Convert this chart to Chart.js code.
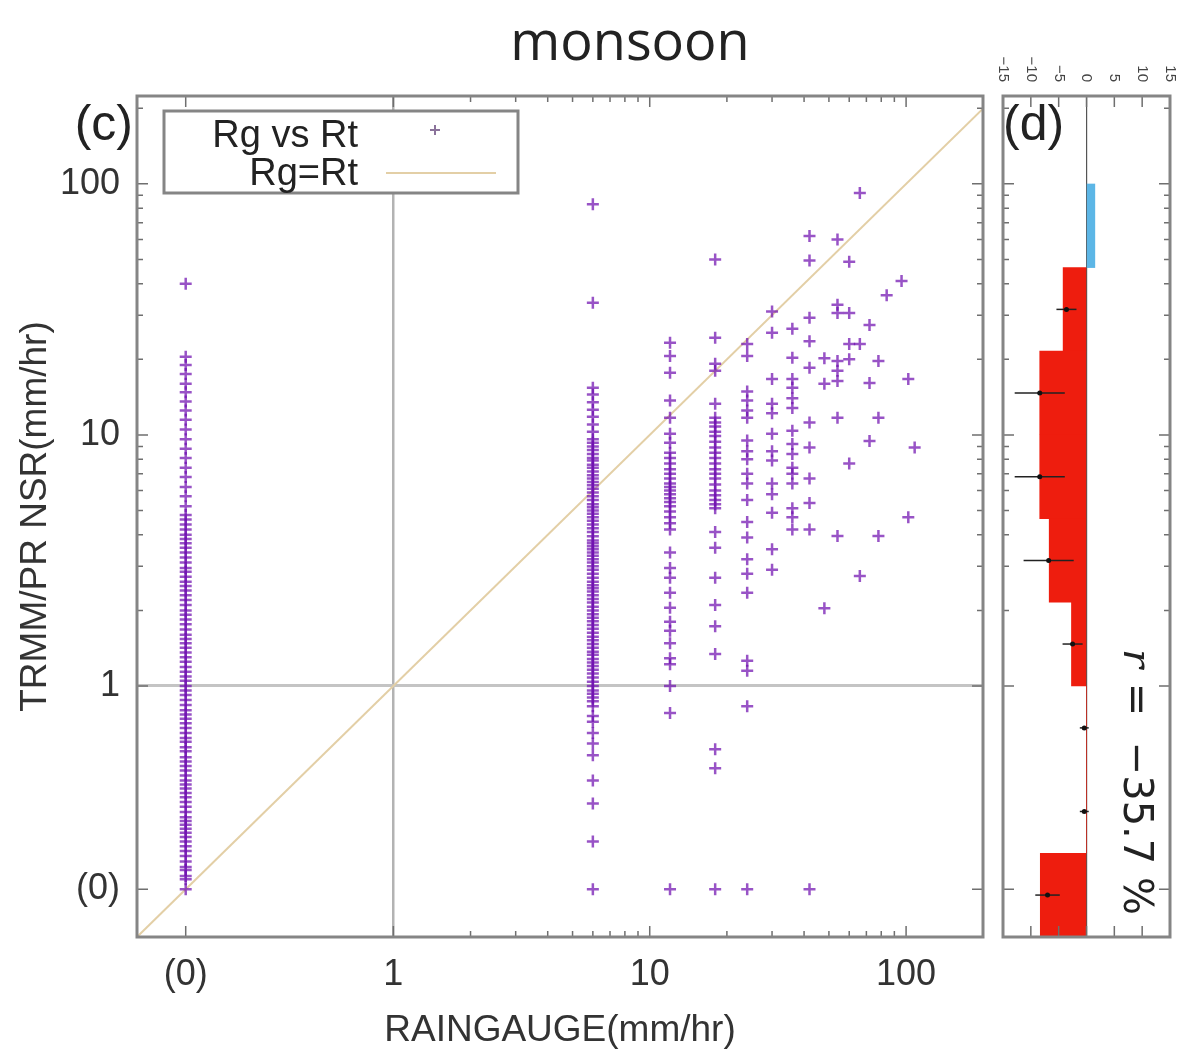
<!DOCTYPE html>
<html>
<head>
<meta charset="utf-8">
<script src="https://cdn.jsdelivr.net/npm/chart.js@4"></script>
<style>
  body { margin: 0; background: #fff; }
  #wrap { position: relative; width: 1180px; height: 1059px; overflow: hidden; background: #fff; }
  #title {
    position: absolute; top: 2px; left: 630px; transform: translateX(-50%);
    font: 54px 'Open Sans', 'Noto Sans', sans-serif; color: #222; white-space: nowrap;
  }
  #mainChart { position: absolute; left: 0; top: 0; }
  #sideChart { position: absolute; left: 995px; top: 0; }
</style>
</head>
<body>
<div id="wrap">
  <div id="title">monsoon</div>
  <canvas id="mainChart" width="995" height="1059"></canvas>
  <canvas id="sideChart" width="185" height="1059"></canvas>
</div>
<script>
// where "(0)" sits on the log axes (in decades)
const ZERO_POS = -0.81;

// axis ticks (mm/hr) and their labels
const axisTickValues = [0, 1, 10, 100];
const axisTickLabels = ['(0)', '1', '10', '100'];

// rain gauge columns (mm/hr) and the TRMM/PR values read at each
const gaugeColumns = [0, 6, 12, 18, 24, 30, 36, 42, 48, 54, 60, 66, 72, 78, 84, 96, 102, 108];

const trmmAt0 = [40, 20.5, 19, 17.5, 16, 14.8, 13.6, 12.5, 11.5, 10.5, 9.6, 8.8, 8.1, 7.4, 6.8, 6.2, 5.7,
  5.2, 4.8, 4.6, 4.4, 4.2, 4.0, 3.85, 3.7, 3.55, 3.4, 3.25, 3.1, 2.95, 2.85, 2.72, 2.6, 2.5, 2.4, 2.3,
  2.2, 2.1, 2.0, 1.92, 1.84, 1.76, 1.68, 1.6, 1.54, 1.48, 1.42, 1.36, 1.3, 1.25, 1.19, 1.14, 1.09,
  1.05, 1.0, 0.96, 0.92, 0.88, 0.84, 0.8, 0.77, 0.74, 0.71, 0.68, 0.65, 0.62, 0.6, 0.57, 0.55, 0.52,
  0.5, 0.48, 0.46, 0.44, 0.42, 0.405, 0.39, 0.375, 0.36, 0.345, 0.33, 0.315, 0.3, 0.29, 0.28, 0.27,
  0.26, 0.25, 0.24, 0.23, 0.22, 0.21, 0.2, 0.19, 0.185, 0.175, 0.17, 0];
const trmmAt6 = [83, 33.6, 15.4, 14.5, 13.5, 12.6, 11.8, 11, 10.3, 9.6, 9.3, 9.0, 8.7, 8.4, 8.1, 7.9,
  7.6, 7.4, 7.15, 6.9, 6.7, 6.5, 6.3, 6.1, 5.9, 5.7, 5.5, 5.3, 5.15, 5.0, 4.85, 4.7, 4.55, 4.4, 4.25,
  4.1, 3.95, 3.8, 3.7, 3.6, 3.5, 3.4, 3.3, 3.2, 3.1, 3.0, 2.9, 2.8, 2.7, 2.6, 2.52, 2.45, 2.38, 2.3,
  2.22, 2.15, 2.07, 2.0, 1.93, 1.87, 1.81, 1.75, 1.69, 1.63, 1.57, 1.52, 1.47, 1.42, 1.37, 1.33,
  1.28, 1.24, 1.2, 1.16, 1.12, 1.08, 1.04, 1.0, 0.96, 0.93, 0.9, 0.87, 0.83, 0.76, 0.72, 0.65, 0.59,
  0.53, 0.42, 0.34, 0.24, 0];
const trmmAt12 = [23.3, 20.6, 17.7, 13.7, 11.7, 10.1, 9.3, 8.5, 8.1, 7.7, 7.3, 7.0, 6.7, 6.4, 6.2,
  6.0, 5.8, 5.6, 5.4, 5.2, 4.95, 4.7, 4.45, 4.2, 3.4, 2.95, 2.7, 2.35, 2.05, 1.8, 1.66, 1.48, 1.29,
  1.22, 1.0, 0.78, 0];
const trmmAt18 = [50, 24.4, 19.2, 18, 13.3, 11.7, 11.2, 10.8, 10.3, 9.9, 9.4, 8.9, 8.5, 8.1, 7.7, 7.3,
  7.0, 6.7, 6.35, 6.0, 5.75, 5.5, 5.3, 5.1, 4.1, 3.55, 2.7, 2.1, 1.73, 1.34, 0.56, 0.47, 0];
const trmmAt24 = [23, 20.6, 14.9, 13.7, 12.5, 11.7, 9.5, 8.6, 8.0, 7.0, 6.4, 5.5, 4.5, 3.9, 3.2, 2.8,
  2.35, 1.26, 1.15, 0.83, 0];
const trmmAt30 = [31, 25.5, 16.7, 13.3, 12.2, 10.1, 8.6, 7.9, 6.4, 5.8, 4.9, 3.5, 2.9];
const trmmAt36 = [26.5, 20.3, 16.7, 15.4, 14, 12.8, 10.4, 9.2, 8.4, 7.4, 7.0, 6.4, 5.1, 4.7, 4.2];
const trmmAt42 = [62, 49.5, 29.3, 23.6, 18.5, 11.2, 8.9, 6.7, 5.35, 4.2, 0];
const trmmAt48 = [20.2, 16, 2.04];
const trmmAt54 = [60, 33, 30.6, 19.7, 18, 16.4, 11.7, 3.96];
const trmmAt60 = [49, 30.6, 23, 20, 7.7];
const trmmAt66 = [92, 23, 2.74];
const trmmAt72 = [27.4, 16.1, 9.45];
const trmmAt78 = [19.7, 11.7, 3.96];
const trmmAt84 = [36];
const trmmAt96 = [41];
const trmmAt102 = [16.7, 4.7];
const trmmAt108 = [8.9];
const trmmByColumn = [trmmAt0, trmmAt6, trmmAt12, trmmAt18, trmmAt24, trmmAt30, trmmAt36, trmmAt42,
  trmmAt48, trmmAt54, trmmAt60, trmmAt66, trmmAt72, trmmAt78, trmmAt84, trmmAt96, trmmAt102, trmmAt108];

// Rg=Rt line end points (mm/hr)
const oneToOne = [0.1, 224];

// panel (d): bias contribution (%) per TRMM bin (bin centres in decades)
const binCentersLog = [1.833, 1.5, 1.167, 0.833, 0.5, 0.167, -0.167, -0.5, -0.833];
const biasPct = [1.5, -4.2, -8.4, -8.4, -6.7, -2.7, 0, 0, -8.3];
const markerBins = [1.5, 1.167, 0.833, 0.5, 0.167, -0.167, -0.5, -0.833];
const markerMean = [-3.6, -8.4, -8.4, -6.8, -2.5, -0.4, -0.4, -7.0];
const markerErr = [1.8, 4.5, 4.5, 4.5, 1.8, 0.8, 0.8, 2.2];
const biasTicks = [-15, -10, -5, 0, 5, 10, 15];
const totalBias = '\u221235.7 %';

const toLog = v => v === 0 ? ZERO_POS : Math.log10(v);

const scatterPoints = [];
gaugeColumns.forEach((g, i) => {
  trmmByColumn[i].forEach(t => scatterPoints.push({ x: toLog(g), y: toLog(t) }));
});

const tickFont = { family: "'Liberation Sans Narrow', 'Liberation Sans', Arial, sans-serif", size: 36 };
const titleFont = { family: "'Liberation Sans', Arial, sans-serif", size: 37 };
const FRAME = '#858585';

function minorLogTicks(hi) {
  const out = [];
  for (let d = 0; d <= 2; d++) {
    for (let k = 2; k <= 9; k++) {
      const v = d + Math.log10(k);
      if (v < hi) out.push(v);
    }
  }
  return out;
}

// box with inward tick marks, gnuplot style
const frame = {
  id: 'frame',
  afterDatasetsDraw(chart, args, opts) {
    const { ctx, chartArea: a, scales: { x, y } } = chart;
    ctx.save();
    ctx.strokeStyle = '#6f6f6f';
    ctx.lineWidth = 1.5;
    const mark = (vals, len, horiz) => {
      vals.forEach(v => {
        ctx.beginPath();
        if (horiz) {
          const px = x.getPixelForValue(v);
          ctx.moveTo(px, a.bottom); ctx.lineTo(px, a.bottom - len);
          ctx.moveTo(px, a.top); ctx.lineTo(px, a.top + len);
        } else {
          const py = y.getPixelForValue(v);
          ctx.moveTo(a.left, py); ctx.lineTo(a.left + len, py);
          ctx.moveTo(a.right, py); ctx.lineTo(a.right - len, py);
        }
        ctx.stroke();
      });
    };
    mark(opts.xMajor, 11, true);
    mark(opts.xMinor, 6, true);
    mark(opts.yMajor, 11, false);
    mark(opts.yMinor, 6, false);
    ctx.strokeStyle = FRAME;
    ctx.lineWidth = 3;
    ctx.strokeRect(a.left, a.top, a.right - a.left, a.bottom - a.top);
    ctx.fillStyle = '#222';
    ctx.font = "50px 'Liberation Sans', Arial, sans-serif";
    ctx.textBaseline = 'top';
    ctx.textAlign = opts.labelAlign;
    ctx.fillText(opts.label, a.left + opts.labelDx, a.top + 5);
    // rotated top-axis labels (panel d only)
    if (opts.topLabels) {
      ctx.fillStyle = '#444';
      ctx.font = "15px 'Liberation Sans', Arial, sans-serif";
      ctx.textAlign = 'right';
      ctx.textBaseline = 'middle';
      opts.topLabels.forEach(v => {
        ctx.save();
        ctx.translate(x.getPixelForValue(v), a.top - 14);
        ctx.rotate(Math.PI / 2);
        ctx.fillText(v < 0 ? '\u2212' + Math.abs(v) : String(v), 0, 0);
        ctx.restore();
      });
    }
    ctx.restore();
  }
};

// key box inside panel (c)
const keyBox = {
  id: 'keyBox',
  afterDatasetsDraw(chart) {
    const { ctx, chartArea: a } = chart;
    const l = a.left + 27, t = a.top + 15, w = 354, h = 82;
    ctx.save();
    ctx.fillStyle = '#fff';
    ctx.fillRect(l, t, w, h);
    ctx.strokeStyle = FRAME;
    ctx.lineWidth = 3;
    ctx.strokeRect(l, t, w, h);
    ctx.fillStyle = '#222';
    ctx.font = "38px 'Liberation Sans', Arial, sans-serif";
    ctx.textAlign = 'right';
    ctx.textBaseline = 'alphabetic';
    ctx.fillText('Rg vs Rt', l + 194, t + 36);
    ctx.fillText('Rg=Rt', l + 194, t + 74);
    ctx.strokeStyle = 'rgba(110, 80, 130, 0.8)';
    ctx.lineWidth = 2;
    ctx.beginPath();
    ctx.moveTo(l + 266, t + 19); ctx.lineTo(l + 276, t + 19);
    ctx.moveTo(l + 271, t + 14); ctx.lineTo(l + 271, t + 24);
    ctx.stroke();
    ctx.strokeStyle = '#e3cfa6';
    ctx.beginPath();
    ctx.moveTo(l + 222, t + 62); ctx.lineTo(l + 332, t + 62);
    ctx.stroke();
    ctx.restore();
  }
};

// rotated correlation text in panel (d)
const rText = {
  id: 'rText',
  afterDatasetsDraw(chart) {
    const { ctx, chartArea: a } = chart;
    ctx.save();
    ctx.translate(a.left + 131, a.bottom - 22);
    ctx.rotate(Math.PI / 2);
    ctx.fillStyle = '#222';
    ctx.textBaseline = 'middle';
    ctx.textAlign = 'right';
    ctx.font = "40px 'DejaVu Sans', sans-serif";
    const rest = ' =  ' + totalBias;
    ctx.fillText(rest, 0, 0);
    const wRest = ctx.measureText(rest).width;
    ctx.font = "italic 40px 'DejaVu Serif', serif";
    ctx.fillText('r', -wRest - 2, 0);
    ctx.restore();
  }
};

const majorLog = axisTickValues.map(toLog);

new Chart(document.getElementById('mainChart'), {
  type: 'scatter',
  data: {
    datasets: [
      {
        data: oneToOne.map(v => ({ x: toLog(v), y: toLog(v) })),
        type: 'line',
        borderColor: '#e3cfa6',
        borderWidth: 2,
        pointRadius: 0,
        order: 2
      },
      {
        data: scatterPoints,
        pointStyle: 'cross',
        pointRadius: 6,
        borderWidth: 2.5,
        borderColor: 'rgba(112, 16, 176, 0.72)',
        order: 1
      }
    ]
  },
  options: {
    responsive: false,
    animation: false,
    layout: { padding: { top: 96, right: 12, left: 0, bottom: 0 } },
    plugins: {
      legend: { display: false },
      tooltip: { enabled: false },
      frame: {
        xMajor: majorLog, xMinor: minorLogTicks(2.3),
        yMajor: majorLog, yMinor: minorLogTicks(2.35),
        label: '(c)', labelAlign: 'right', labelDx: -4
      }
    },
    scales: {
      x: {
        type: 'linear', min: -1, max: 2.3,
        afterBuildTicks: s => { s.ticks = majorLog.map(v => ({ value: v })); },
        afterFit: s => { s.height = 122; },
        ticks: { callback: (v, i) => axisTickLabels[i], font: tickFont, color: '#333', padding: 16, maxRotation: 0 },
        grid: {
          drawTicks: false, lineWidth: 2.5,
          color: c => (c.tick && c.tick.value === 0) ? '#b3b3b3' : 'rgba(0,0,0,0)'
        },
        border: { display: false },
        title: { display: true, text: 'RAINGAUGE(mm/hr)', font: titleFont, color: '#333', padding: { top: 0, bottom: 6 } }
      },
      y: {
        type: 'linear', min: -1, max: 2.35,
        afterBuildTicks: s => { s.ticks = majorLog.map(v => ({ value: v })); },
        afterFit: s => { s.width = 137; },
        ticks: { callback: (v, i) => axisTickLabels[i], font: tickFont, color: '#333', padding: 17 },
        grid: {
          drawTicks: false, lineWidth: 3,
          color: c => (c.tick && c.tick.value === 0) ? '#c4c4c4' : 'rgba(0,0,0,0)'
        },
        border: { display: false },
        title: { display: true, text: 'TRMM/PR NSR(mm/hr)', font: titleFont, color: '#333', padding: { top: 14, bottom: 0 } }
      }
    }
  },
  plugins: [frame, keyBox]
});

new Chart(document.getElementById('sideChart'), {
  type: 'bar',
  data: {
    datasets: [
      {
        data: binCentersLog.map((c, i) => ({ x: biasPct[i], y: c })),
        backgroundColor: c => (c.raw && c.raw.x > 0) ? '#5cb6e6' : '#ee1d0e',
        barPercentage: 1,
        categoryPercentage: 1,
        borderWidth: 0,
        order: 3
      },
      ...markerBins.map((c, i) => ({
        type: 'line',
        data: [{ x: markerMean[i] - markerErr[i], y: c }, { x: markerMean[i] + markerErr[i], y: c }],
        borderColor: '#222',
        borderWidth: 1.5,
        pointRadius: 0,
        order: 2
      })),
      {
        type: 'scatter',
        data: markerBins.map((c, i) => ({ x: markerMean[i], y: c })),
        pointRadius: 2.5,
        backgroundColor: '#111',
        borderWidth: 0,
        order: 1
      }
    ]
  },
  options: {
    indexAxis: 'y',
    responsive: false,
    animation: false,
    layout: { padding: { top: 96, right: 10, left: 8, bottom: 122 } },
    plugins: {
      legend: { display: false },
      tooltip: { enabled: false },
      frame: {
        xMajor: biasTicks, xMinor: [],
        yMajor: majorLog, yMinor: minorLogTicks(2.35),
        label: '(d)', labelAlign: 'left', labelDx: 0,
        topLabels: biasTicks
      }
    },
    scales: {
      x: {
        type: 'linear', position: 'top', min: -15, max: 15,
        afterBuildTicks: s => { s.ticks = biasTicks.map(v => ({ value: v })); },
        afterFit: s => { s.height = 0; s.paddingLeft = 0; s.paddingRight = 0; },
        ticks: { display: false },
        grid: {
          drawTicks: false, lineWidth: 1.2,
          color: c => (c.tick && c.tick.value === 0) ? '#555' : 'rgba(0,0,0,0)'
        },
        border: { display: false }
      },
      y: {
        type: 'linear', min: -1, max: 2.35, display: false, offset: false,
        grid: { offset: false },
        afterBuildTicks: s => { s.ticks = majorLog.map(v => ({ value: v })); }
      }
    }
  },
  plugins: [frame, rText]
});
</script>
</body>
</html>
